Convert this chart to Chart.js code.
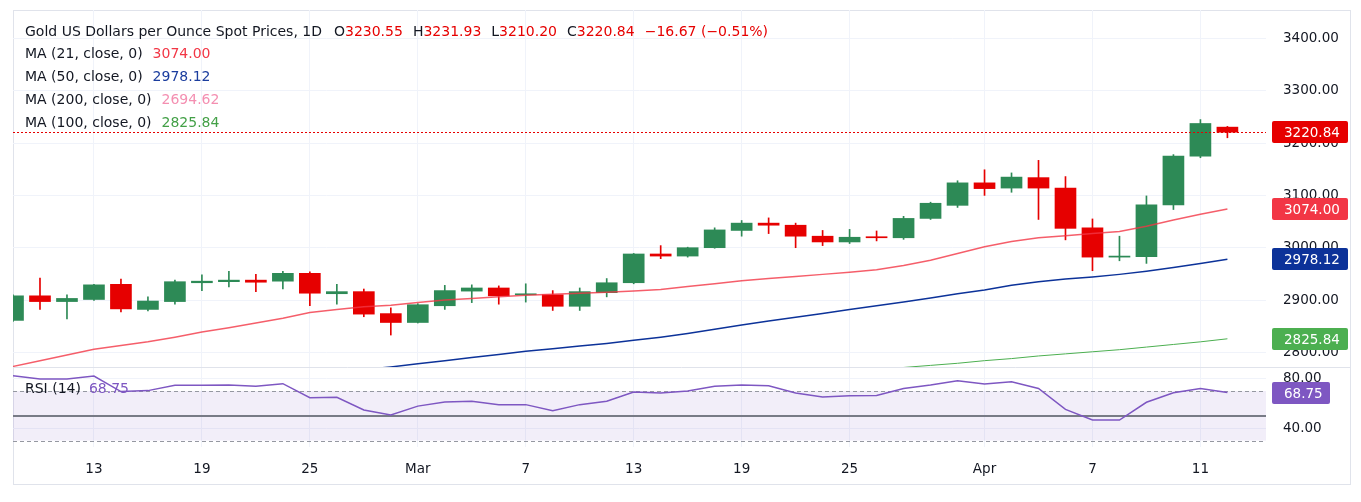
<!DOCTYPE html>
<html>
<head>
<meta charset="utf-8">
<script src="https://cdn.jsdelivr.net/npm/chart.js@4.4.1/dist/chart.umd.min.js"></script>
<style>
  body { margin: 0; background: #fff; width: 1361px; height: 502px; overflow: hidden; position: relative; }
  #frame { position: absolute; left: 13px; top: 10px; width: 1336px; height: 473px; border: 1px solid #e0e3eb; }
  canvas { position: absolute; left: 0; }
  #priceChart { top: 0; }
  #rsiChart { top: 367px; }
</style>
</head>
<body>
<div id="frame"></div>
<canvas id="priceChart" width="1361" height="367"></canvas>
<canvas id="rsiChart" width="1361" height="135"></canvas>
<script>
// trading days shown (Feb 10 -> Apr 14)
const dates = ['Feb 10','Feb 11','Feb 12','Feb 13','Feb 14','Feb 17','Feb 18','Feb 19','Feb 20','Feb 21',
  'Feb 24','Feb 25','Feb 26','Feb 27','Feb 28','Mar 3','Mar 4','Mar 5','Mar 6','Mar 7',
  'Mar 10','Mar 11','Mar 12','Mar 13','Mar 14','Mar 17','Mar 18','Mar 19','Mar 20','Mar 21',
  'Mar 24','Mar 25','Mar 26','Mar 27','Mar 28','Mar 31','Apr 1','Apr 2','Apr 3','Apr 4',
  'Apr 7','Apr 8','Apr 9','Apr 10','Apr 11','Apr 14']

const open  = [2861,2908,2897,2901,2930,2882,2897,2933,2935,2938, 2936,2951,2912,2916,2874,2857,2889,2917,2923,2910,
  2910,2888,2914,2933,2988,2984,3000,3033,3047,3043, 3022,3011,3021,3019,3056,3081,3124,3114,3134,3114,
  3038,2982,2983,3082,3175,3230.55]
const high  = [2910,2942,2910,2930,2940,2906,2938,2948,2955,2949, 2955,2954,2930,2921,2885,2893,2928,2929,2927,2931,
  2918,2923,2941,2989,3004,3001,3038,3052,3057,3047, 3033,3035,3032,3060,3087,3128,3149,3143,3167,3136,
  3055,3022,3099,3178,3245,3231.93]
const low   = [2859,2882,2864,2899,2877,2879,2892,2918,2925,2916, 2921,2889,2892,2868,2833,2856,2882,2895,2892,2896,
  2880,2880,2906,2931,2979,2982,2999,3022,3027,3000, 3004,3008,3013,3016,3054,3077,3100,3106,3054,3015,
  2956,2975,2970,3073,3172,3210.20]
const close = [2908,2897,2903,2929,2883,2898,2935,2936,2938,2934, 2951,2913,2916,2873,2857,2891,2918,2923,2908,2911,
  2888,2916,2933,2988,2984,3000,3034,3047,3043,3022, 3011,3020,3019,3056,3085,3124,3113,3135,3114,3037,
  2982,2984,3082,3175,3237.51,3220.84]

const ma21 = [2773,2784,2795,2806,2813,2820,2829,2839,2847,2856, 2865,2876,2882,2887,2890,2895,2900,2903,2906,2909,
  2911,2913,2915,2917,2920,2926,2931,2937,2941,2945, 2949,2953,2958,2966,2976,2989,3002,3012,3019,3023,
  3027,3031,3041,3053,3064,3074.00]
const ma50 = [null,null,null,null,null,null,null,null,null,null, null,null,null,2767,2772,2778,2784,2790,2796,2802,
  2807,2812,2817,2823,2829,2836,2844,2852,2860,2867, 2874,2882,2889,2896,2904,2912,2919,2928,2935,2940,
  2944,2949,2955,2962,2970,2978.12]
const ma100 = [null,null,null,null,null,null,null,null,null,null, null,null,null,null,null,null,null,null,null,null,
  null,null,null,null,null,null,null,null,null,null, null,null,2767,2771,2775,2779,2784,2788,2793,2797,
  2801,2805,2810,2815,2820,2825.84]
const ma200Last = 2694.62

const rsi = [82.3,79.7,79.7,82.0,69.5,70.3,74.6,74.6,74.8,73.8, 75.9,64.6,64.9,54.7,50.6,57.8,61.2,61.7,59.0,59.0,
  54.1,59.0,61.7,69.2,68.4,70.0,73.8,74.8,74.3,68.4, 65.2,66.2,66.4,72.0,74.8,78.3,75.6,77.5,72.0,55.2,
  46.6,46.6,60.9,68.6,72.0,68.75]

const xTickIdx = [3,7,11,15,19,23,27,31,36,40,44]
const xTickLabels = ['13','19','25','Mar','7','13','19','25','Apr','7','11']
const yTicks = [2800,2900,3000,3100,3200,3300,3400]
const rsiTicks = [40,80]

const GREEN = '#2d8a56'
const RED = '#e60000'
const DARK = '#131722'
const GRID = '#f0f3fa'
const LEGEND_FONT = "14px 'DejaVu Sans', sans-serif"
const TAG_FONT = "13.5px 'DejaVu Sans', sans-serif"

Chart.defaults.font.family = "'DejaVu Sans', sans-serif"
Chart.defaults.font.size = 13.5

const last = close.length - 1
const change = close[last] - close[last - 1]
const changePct = change / close[last - 1] * 100
const fmtSigned = v => (v < 0 ? '\u2212' : '+') + Math.abs(v).toFixed(2)

const toXY = arr => arr.map((v, i) => ({ x: i, y: v }))
const candleColor = i => close[i] >= open[i] ? GREEN : RED

// kill the automatic label paddings so the plot area is exactly where we want it
const noPad = s => { s.paddingTop = 0; s.paddingBottom = 0; s.paddingLeft = 0; s.paddingRight = 0 }

const drawRuns = (ctx, x, y, runs) => {
    runs.forEach(([text, color, gap]) => {
        ctx.fillStyle = color
        ctx.fillText(text, x, y)
        x += ctx.measureText(text).width + (gap || 0)
    })
}

const drawTag = (ctx, y, text, color, w) => {
    ctx.font = TAG_FONT
    ctx.fillStyle = color
    ctx.beginPath()
    ctx.roundRect(1272, Math.round(y) - 11, w, 22, 2)
    ctx.fill()
    ctx.fillStyle = '#fff'
    ctx.textAlign = 'left'
    ctx.textBaseline = 'middle'
    ctx.fillText(text, 1284, Math.round(y) + 1)
}

const pricePlugin = {
    id: 'priceExtras',
    afterDatasetsDraw(chart) {
        const { ctx, chartArea, scales } = chart
        // last price dotted line
        const y = Math.round(scales.y.getPixelForValue(close[last])) + 0.5
        ctx.save()
        ctx.strokeStyle = RED
        ctx.lineWidth = 1
        ctx.setLineDash([2, 2])
        ctx.beginPath()
        ctx.moveTo(chartArea.left, y)
        ctx.lineTo(chartArea.right, y)
        ctx.stroke()
        ctx.restore()
    },
    afterDraw(chart) {
        const { ctx, scales } = chart
        ctx.save()
        ctx.font = LEGEND_FONT
        ctx.textBaseline = 'middle'
        ctx.textAlign = 'left'
        drawRuns(ctx, 25, 32, [
            ['Gold US Dollars per Ounce Spot Prices, 1D', DARK, 12],
            ['O', DARK], [open[last].toFixed(2), RED, 10],
            ['H', DARK], [high[last].toFixed(2), RED, 10],
            ['L', DARK], [low[last].toFixed(2), RED, 10],
            ['C', DARK], [close[last].toFixed(2), RED, 10],
            [fmtSigned(change) + ' (' + fmtSigned(changePct) + '%)', RED]
        ])
        drawRuns(ctx, 25, 54.5, [['MA (21, close, 0)', DARK, 10], [ma21[last].toFixed(2), '#f23645']])
        drawRuns(ctx, 25, 77.5, [['MA (50, close, 0)', DARK, 10], [ma50[last].toFixed(2), '#1b3d9e']])
        drawRuns(ctx, 25, 100.5, [['MA (200, close, 0)', DARK, 10], [ma200Last.toFixed(2), '#f48fb1']])
        drawRuns(ctx, 25, 123.5, [['MA (100, close, 0)', DARK, 10], [ma100[last].toFixed(2), '#43a047']])

        const ys = scales.y
        drawTag(ctx, ys.getPixelForValue(close[last]), close[last].toFixed(2), RED, 76)
        drawTag(ctx, ys.getPixelForValue(ma21[last]), ma21[last].toFixed(2), '#f23645', 76)
        drawTag(ctx, ys.getPixelForValue(ma50[last]), ma50[last].toFixed(2), '#0c3299', 76)
        drawTag(ctx, ys.getPixelForValue(ma100[last]), ma100[last].toFixed(2), '#4caf50', 76)
        ctx.restore()
    }
}

const rsiPlugin = {
    id: 'rsiExtras',
    beforeDatasetsDraw(chart) {
        const { ctx, chartArea, scales } = chart
        const y70 = scales.y.getPixelForValue(70)
        const y30 = scales.y.getPixelForValue(30)
        const y50 = scales.y.getPixelForValue(50)
        ctx.save()
        ctx.fillStyle = 'rgba(126, 87, 194, 0.1)'
        ctx.fillRect(chartArea.left, y70, chartArea.right - chartArea.left, y30 - y70)
        ctx.strokeStyle = '#9598a1'
        ctx.lineWidth = 1
        ctx.setLineDash([4, 3])
        ctx.beginPath()
        ctx.moveTo(chartArea.left, Math.round(y70) + 0.5)
        ctx.lineTo(chartArea.right, Math.round(y70) + 0.5)
        ctx.moveTo(chartArea.left, Math.round(y30) + 0.5)
        ctx.lineTo(chartArea.right, Math.round(y30) + 0.5)
        ctx.stroke()
        ctx.setLineDash([])
        ctx.strokeStyle = '#787b86'
        ctx.lineWidth = 2
        ctx.beginPath()
        ctx.moveTo(chartArea.left, Math.round(y50))
        ctx.lineTo(chartArea.right, Math.round(y50))
        ctx.stroke()
        ctx.restore()
    },
    afterDraw(chart) {
        const { ctx, scales } = chart
        ctx.save()
        // pane separator
        ctx.strokeStyle = '#e0e3eb'
        ctx.lineWidth = 1
        ctx.beginPath()
        ctx.moveTo(13, 0.5)
        ctx.lineTo(1350, 0.5)
        ctx.stroke()

        ctx.font = LEGEND_FONT
        ctx.textBaseline = 'middle'
        ctx.textAlign = 'left'
        drawRuns(ctx, 25, 22, [['RSI (14)', DARK, 8], [rsi[last].toFixed(2), '#7e57c2']])
        drawTag(ctx, scales.y.getPixelForValue(rsi[last]), rsi[last].toFixed(2), '#7e57c2', 58)
        ctx.restore()
    }
}

const xMax = 46.43

new Chart(document.getElementById('priceChart'), {
    type: 'bar',
    data: {
        datasets: [
            { type: 'line', data: toXY(ma21), borderColor: 'rgba(242, 54, 69, 0.8)', borderWidth: 1.5, pointRadius: 0, order: 0 },
            { type: 'line', data: toXY(ma50), borderColor: '#0c3299', borderWidth: 1.5, pointRadius: 0, order: 0 },
            { type: 'line', data: toXY(ma100), borderColor: '#4caf50', borderWidth: 1, pointRadius: 0, order: 0 },
            {
                data: dates.map((d, i) => ({ x: i, y: [open[i], close[i]] })),
                backgroundColor: ctx => candleColor(ctx.dataIndex),
                barThickness: 21, minBarLength: 1, grouped: false, order: 1
            },
            {
                data: dates.map((d, i) => ({ x: i, y: [low[i], high[i]] })),
                backgroundColor: ctx => candleColor(ctx.dataIndex),
                barThickness: 1, grouped: false, order: 2
            }
        ]
    },
    options: {
        responsive: false,
        animation: false,
        events: [],
        layout: { autoPadding: false, padding: { left: 13, top: 10, right: 0, bottom: 0 } },
        plugins: { legend: { display: false }, tooltip: { enabled: false } },
        scales: {
            x: {
                type: 'linear', min: 0, max: xMax, offset: false,
                grid: { color: GRID, drawTicks: false, offset: false },
                border: { display: false },
                ticks: { display: false },
                afterBuildTicks: s => { s.ticks = xTickIdx.map(v => ({ value: v })) },
                afterFit: s => { s.height = 0; noPad(s) }
            },
            y: {
                position: 'right', min: 2771.9, max: 3454.5,
                grid: { color: GRID, drawTicks: false },
                border: { display: false },
                ticks: { padding: 17, color: DARK, callback: v => v.toFixed(2) },
                afterBuildTicks: s => { s.ticks = yTicks.map(v => ({ value: v })) },
                afterFit: s => { s.width = 95; noPad(s) }
            }
        }
    },
    plugins: [pricePlugin]
})

new Chart(document.getElementById('rsiChart'), {
    type: 'line',
    data: {
        datasets: [
            { data: toXY(rsi), borderColor: '#7e57c2', borderWidth: 1.5, pointRadius: 0 }
        ]
    },
    options: {
        responsive: false,
        animation: false,
        events: [],
        layout: { autoPadding: false, padding: { left: 13, top: 0, right: 0, bottom: 0 } },
        plugins: { legend: { display: false }, tooltip: { enabled: false } },
        scales: {
            x: {
                type: 'linear', min: 0, max: xMax,
                grid: { color: GRID, drawTicks: false },
                border: { display: false },
                ticks: { padding: 14, color: DARK, maxRotation: 0, autoSkip: false, callback: (v, i) => xTickLabels[i] },
                afterBuildTicks: s => { s.ticks = xTickIdx.map(v => ({ value: v })) },
                afterFit: s => { s.height = 55; noPad(s) }
            },
            y: {
                position: 'right', min: 24.84, max: 89.35,
                grid: { color: GRID, drawTicks: false },
                border: { display: false },
                ticks: { padding: 17, color: DARK, callback: v => v.toFixed(2) },
                afterBuildTicks: s => { s.ticks = rsiTicks.map(v => ({ value: v })) },
                afterFit: s => { s.width = 95; noPad(s) }
            }
        }
    },
    plugins: [rsiPlugin]
})
</script>
</body>
</html>
